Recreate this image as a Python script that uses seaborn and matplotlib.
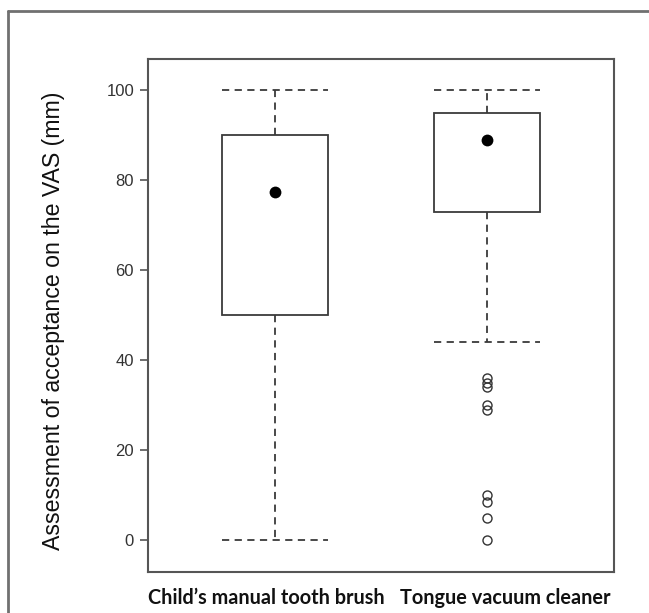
import numpy as np
import pandas as pd
import matplotlib
matplotlib.use("Agg")
import matplotlib.pyplot as plt
import seaborn as sns
from matplotlib.lines import Line2D
from matplotlib.transforms import ScaledTranslation

# Box summaries (VAS, mm)
groups = ["Child\u2019s manual tooth brush", "Tongue vacuum cleaner"]
whisker_low = [0, 44]
q1 = [50, 73]
median = [77.5, 89]
q3 = [90, 95]
whisker_high = [100, 100]
outliers = [[], [36, 35, 34, 30, 29, 10, 8.5, 5, 0]]


def sample_from_summary(lo, a, m, b, hi, out):
    # 41-point sample whose quartiles land on the read-off values
    vals = list(out) + [lo] * (10 - len(out))
    vals += [a] * 10 + [m] * 10 + [b] * 10 + [hi]
    return vals


rows = []
for i, g in enumerate(groups):
    for v in sample_from_summary(whisker_low[i], q1[i], median[i], q3[i],
                                 whisker_high[i], outliers[i]):
        rows.append({"group": g, "vas": v})
df = pd.DataFrame(rows)
med_df = pd.DataFrame({"group": groups, "vas": median})

sns.set_style("white")
plt.rcParams['font.family'] = ['Liberation Sans', 'DejaVu Sans']

fig = plt.figure(figsize=(6.49, 6.13), dpi=100)
ax = fig.add_axes([0.228, 0.067, 0.718, 0.837])

edge = "#3a3a3a"
dash = (0, (4, 3))
sns.boxplot(data=df, x="group", y="vas", order=groups, width=0.5, whis=1.5,
            color="white", linecolor=edge, linewidth=1.3, ax=ax,
            medianprops={"visible": False},
            whiskerprops={"linestyle": dash},
            capprops={"linestyle": dash},
            flierprops={"marker": "o", "markerfacecolor": "none",
                        "markeredgecolor": "#333333", "markersize": 6.5,
                        "markeredgewidth": 1.0})

# caps as wide as the boxes, as in the R original
for cont in ax.containers:
    for cap in cont.caps:
        x0 = np.mean(cap.get_xdata())
        cap.set_xdata([x0 - 0.25, x0 + 0.25])

sns.stripplot(data=med_df, x="group", y="vas", order=groups, jitter=False,
              color="black", size=8.5, ax=ax, zorder=5)

ax.set_xlim(-0.6, 1.6)
ax.set_ylim(-7, 107)
ax.set_yticks([0, 20, 40, 60, 80, 100])
ax.tick_params(axis="y", which="both", left=True, length=6, width=1.2,
               color="#555555", labelsize=12, labelcolor="#333333", pad=4)
ax.tick_params(axis="x", bottom=False, pad=8)
ax.set_xticks(range(len(groups)))
ax.set_xticklabels(groups, fontdict={"family": "Lato", "weight": "bold",
                                     "size": 14.3, "color": "#111111"})
# the original labels sit a little off the box centres
for lab, dx in zip(ax.get_xticklabels(), [-9, 18]):
    lab.set_transform(lab.get_transform() +
                      ScaledTranslation(dx / 100, 0, fig.dpi_scale_trans))
ax.set_xlabel("")
ax.set_ylabel("Assessment of acceptance on the VAS (mm)", fontsize=16.7,
              color="#111111")
ax.yaxis.set_label_coords(-0.178, 0.489)
for s in ax.spines.values():
    s.set_color("#555555")
    s.set_linewidth(1.5)

# outer frame of the figure panel (left and top only visible)
fig.add_artist(Line2D([0.012, 0.012], [0, 0.982], color="#707070", lw=2,
                      transform=fig.transFigure))
fig.add_artist(Line2D([0.012, 1.0], [0.982, 0.982], color="#707070", lw=2,
                      transform=fig.transFigure))

fig.savefig("out.png", dpi=100, facecolor="white")
